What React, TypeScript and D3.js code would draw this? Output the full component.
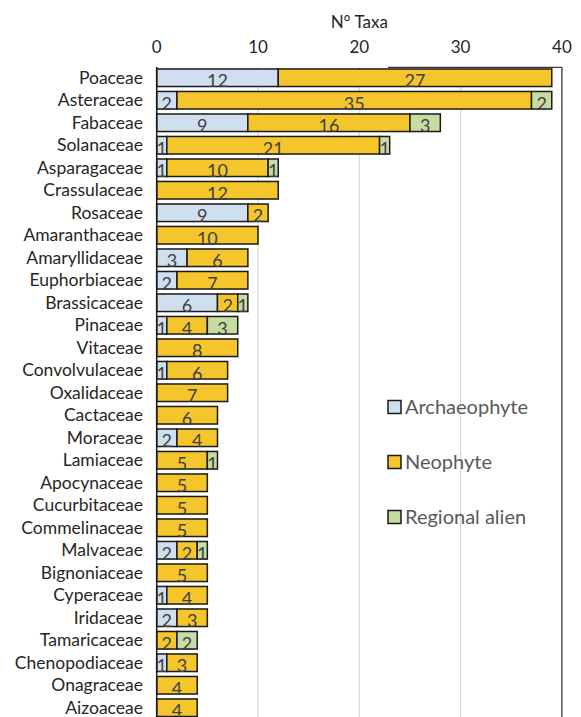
import { useRef, useEffect } from 'react';
import * as d3 from 'd3';

const families = [
  'Poaceae', 'Asteraceae', 'Fabaceae', 'Solanaceae', 'Asparagaceae', 'Crassulaceae', 'Rosaceae',
  'Amaranthaceae', 'Amaryllidaceae', 'Euphorbiaceae', 'Brassicaceae', 'Pinaceae', 'Vitaceae',
  'Convolvulaceae', 'Oxalidaceae', 'Cactaceae', 'Moraceae', 'Lamiaceae', 'Apocynaceae',
  'Cucurbitaceae', 'Commelinaceae', 'Malvaceae', 'Bignoniaceae', 'Cyperaceae', 'Iridaceae',
  'Tamaricaceae', 'Chenopodiaceae', 'Onagraceae', 'Aizoaceae',
];
const archaeophyte = [12, 2, 9, 1, 1, 0, 9, 0, 3, 2, 6, 1, 0, 1, 0, 0, 2, 0, 0, 0, 0, 2, 0, 1, 2, 0, 1, 0, 0];
const neophyte = [27, 35, 16, 21, 10, 12, 2, 10, 6, 7, 2, 4, 8, 6, 7, 6, 4, 5, 5, 5, 5, 2, 5, 4, 3, 2, 3, 4, 4];
const regionalAlien = [0, 2, 3, 1, 1, 0, 0, 0, 0, 0, 1, 3, 0, 0, 0, 0, 0, 1, 0, 0, 0, 1, 0, 0, 0, 2, 0, 0, 0];
const seriesNames = ['Archaeophyte', 'Neophyte', 'Regional alien'];
const seriesColors = ['#cfdff0', '#f4c62c', '#c5dca3'];
const xTicks = [0, 10, 20, 30, 40];

const FONT = 'Lato, "Open Sans", sans-serif';

export default function App() {
  const svgRef = useRef<SVGSVGElement>(null);

  useEffect(() => {
    if (!svgRef.current) return;
    const svg = d3.select(svgRef.current);
    svg.selectAll('*').remove();

    const x = d3.scaleLinear().domain([0, 40]).range([156.7, 561.9]);
    const y = d3.scaleBand<string>().domain(families).range([66.5, 719]).paddingInner(0.22).paddingOuter(0.11);

    const rows = families.map((f, i) => ({ family: f, values: [archaeophyte[i], neophyte[i], regionalAlien[i]] }));

    // title + top axis labels
    svg.append('text').attr('x', x(20)).attr('y', 28).attr('text-anchor', 'middle')
      .attr('font-family', FONT).attr('font-size', 17).attr('fill', '#262626').text('N° Taxa');

    svg.append('g').selectAll('text').data(xTicks).join('text')
      .attr('x', (d) => x(d)).attr('y', 53).attr('text-anchor', 'middle')
      .attr('font-family', FONT).attr('font-size', 17).attr('fill', '#262626')
      .text((d) => d);

    // gridlines
    svg.append('g').selectAll('line').data([10, 20, 30]).join('line')
      .attr('x1', (d) => x(d)).attr('x2', (d) => x(d)).attr('y1', 67).attr('y2', 717)
      .attr('stroke', '#d9d9d9').attr('stroke-width', 1.2);

    // frame pieces
    svg.append('line').attr('x1', x(40)).attr('x2', x(40)).attr('y1', 67).attr('y2', 717)
      .attr('stroke', '#3a3a3a').attr('stroke-width', 1.3);
    svg.append('line').attr('x1', 388).attr('x2', x(40)).attr('y1', 67.3).attr('y2', 67.3)
      .attr('stroke', '#3a3a3a').attr('stroke-width', 1.3);

    // bars
    const bh = y.bandwidth();
    const rowG = svg.append('g').selectAll('g').data(rows).join('g')
      .attr('transform', (d) => `translate(0,${y(d.family)})`);

    rowG.each(function (d) {
      const g = d3.select(this);
      let acc = 0;
      d.values.forEach((v, k) => {
        if (v <= 0) return;
        const x0 = x(acc);
        const x1 = x(acc + v);
        g.append('rect').attr('x', x0).attr('y', 0).attr('width', x1 - x0).attr('height', bh)
          .attr('fill', seriesColors[k]).attr('stroke', '#1a1a1a').attr('stroke-width', 1.5);
        g.append('text').attr('x', (x0 + x1) / 2).attr('y', bh + 0.5)
          .attr('text-anchor', 'middle').attr('font-family', FONT).attr('font-size', 18)
          .attr('fill', '#404040').text(v);
        acc += v;
      });
    });

    // left axis line
    svg.append('line').attr('x1', x(0)).attr('x2', x(0)).attr('y1', 67).attr('y2', 717)
      .attr('stroke', '#1a1a1a').attr('stroke-width', 1.5);

    // category labels
    svg.append('g').selectAll('text').data(families).join('text')
      .attr('x', 143).attr('y', (d) => (y(d) ?? 0) + bh / 2 + 6).attr('text-anchor', 'end')
      .attr('font-family', FONT).attr('font-size', 17.5).attr('fill', '#262626')
      .text((d) => d);

    // legend
    const leg = svg.append('g').selectAll('g').data(seriesNames).join('g')
      .attr('transform', (_, i) => `translate(388,${407 + i * 55})`);
    leg.append('rect').attr('x', 0).attr('y', -6.5).attr('width', 13).attr('height', 13)
      .attr('fill', (_, i) => seriesColors[i]).attr('stroke', '#1a1a1a').attr('stroke-width', 1.5);
    leg.append('text').attr('x', 17).attr('y', 7).attr('font-family', FONT).attr('font-size', 20)
      .attr('fill', '#595959').text((d) => d);
  }, []);

  return (
    <svg ref={svgRef} width={581} height={717}
      style={{ position: 'absolute', left: 0, top: 0, background: '#fff' }} />
  );
}
